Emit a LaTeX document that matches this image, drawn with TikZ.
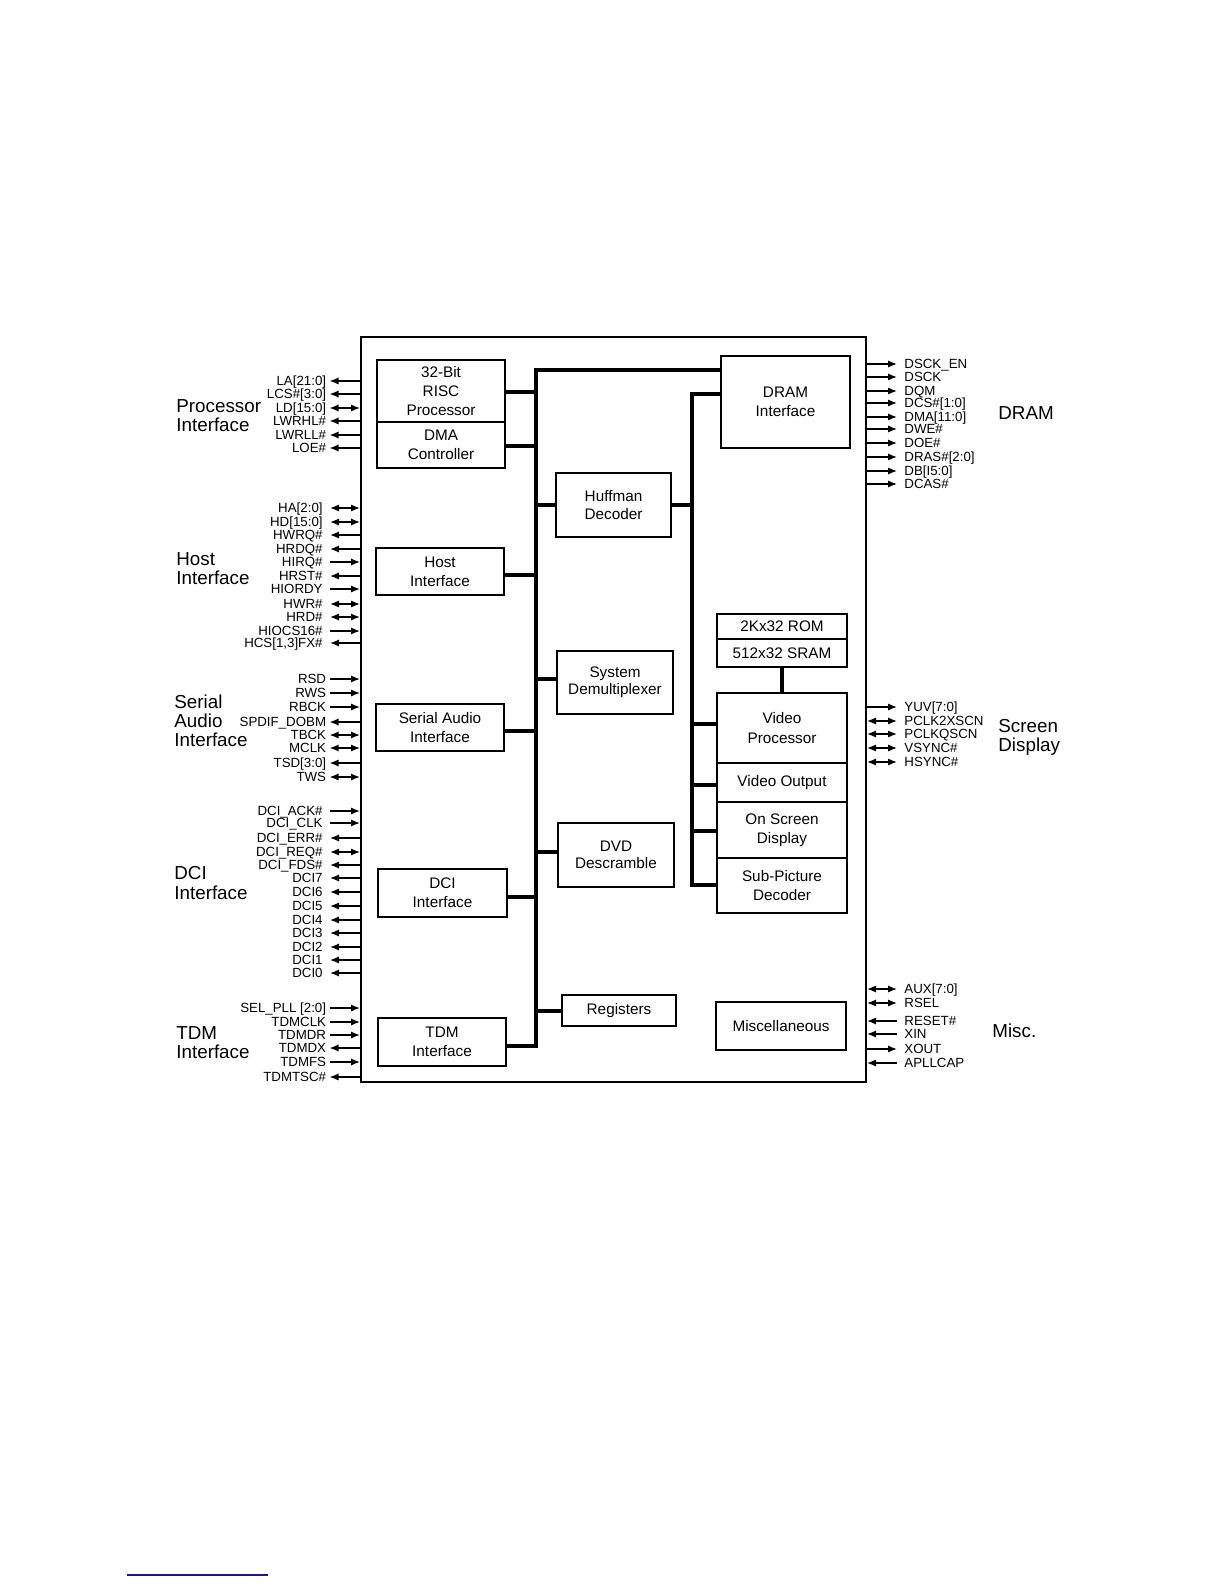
\documentclass[tikz,border=0pt]{standalone}
\usepackage{fontspec}
\setmainfont{Liberation Sans}
\usetikzlibrary{arrows.meta}
\definecolor{fnblue}{RGB}{25,25,140}
\begin{document}
\begin{tikzpicture}[x=0.5pt,y=-0.5pt,
  box/.style={draw, line width=1pt, inner sep=0pt, align=center, font=\fontsize{7.65}{9.6}\selectfont},
  midbox/.style={box, font=\fontsize{7.65}{8.7}\selectfont},
  bus/.style={line width=2pt},
  sig/.style={line width=0.7pt, >={Latex[length=4.5pt,width=3.6pt]}},
  lbl/.style={inner sep=0pt, font=\fontsize{6.65}{8}\selectfont, text height=4.75pt, text depth=0pt},
  ttl/.style={inner sep=0pt, anchor=west, align=left, font=\fontsize{9.4}{9.6}\selectfont}
]
\useasboundingbox (0,0) rectangle (1224,1584);

% main chip outline
\node[draw, line width=1pt, minimum width=252.5pt, minimum height=372.5pt, inner sep=0pt] (main) at (613.5,709.5) {};

% left column blocks
\node[box, minimum width=64pt, minimum height=31pt] (risc) at (441,391) {32-Bit\\RISC\\Processor};
\node[box, minimum width=64pt, minimum height=23pt] (dma) at (441,445) {DMA\\Controller};
\node[box, minimum width=64pt, minimum height=23.5pt] (host) at (440,571.5) {Host\\Interface};
\node[box, minimum width=64pt, minimum height=23.5pt] (serial) at (440,727.5) {Serial Audio\\Interface};
\node[box, minimum width=64.5pt, minimum height=24pt] (dci) at (442.5,893) {DCI\\Interface};
\node[box, minimum width=64pt, minimum height=24pt] (tdm) at (442,1042) {TDM\\Interface};

% middle column blocks
\node[midbox, minimum width=57.5pt, minimum height=32pt] (huff) at (613.5,505) {Huffman\\Decoder};
\node[midbox, minimum width=58pt, minimum height=31.5pt] (demux) at (615,682.5) {System\\Demultiplexer};
\node[midbox, minimum width=58pt, minimum height=32pt] (dvd) at (616,855) {DVD\\Descramble};
\node[midbox, minimum width=57pt, minimum height=15.5pt] (reg) at (619,1010.5) {Registers};

% right column blocks
\node[box, minimum width=64.5pt, minimum height=46pt] (dram) at (785.5,402) {DRAM\\Interface};
\node[box, minimum width=65pt, minimum height=12.5pt] (rom) at (782,626.5) {2Kx32 ROM};
\node[box, minimum width=65pt, minimum height=14pt] (sram) at (782,653) {512x32 SRAM};
\node[box, minimum width=65pt, minimum height=35pt] (vp) at (782,728) {Video\\Processor};
\node[box, minimum width=65pt, minimum height=19.5pt] (vo) at (782,782.5) {Video Output};
\node[box, minimum width=65pt, minimum height=28pt] (osd) at (782,830) {On Screen\\Display};
\node[box, minimum width=65pt, minimum height=27.5pt] (spd) at (782,885.5) {Sub-Picture\\Decoder};
\node[box, minimum width=65pt, minimum height=24pt] (misc) at (781,1026) {Miscellaneous};

% left bus
\coordinate (bt) at (536,370);
\coordinate (bb) at (536,1046);
\draw[bus] (dram.west |- bt) -- (bt) -- (bb) -- (tdm.east |- bb);
\draw[bus] (risc.east |- 0,392) -- (bt |- 0,392);
\draw[bus] (dma.east |- 0,446) -- (bt |- 0,446);
\draw[bus] (huff.west |- 0,505) -- (bt |- 0,505);
\draw[bus] (host.east |- 0,575) -- (bt |- 0,575);
\draw[bus] (demux.west |- 0,679) -- (bt |- 0,679);
\draw[bus] (serial.east |- 0,731) -- (bt |- 0,731);
\draw[bus] (dvd.west |- 0,852) -- (bt |- 0,852);
\draw[bus] (dci.east |- 0,897) -- (bt |- 0,897);
\draw[bus] (reg.west |- 0,1011) -- (bt |- 0,1011);

% right bus
\coordinate (rt) at (692,394);
\coordinate (rb) at (692,885);
\draw[bus] (dram.west |- rt) -- (rt) -- (rb) -- (spd.west |- rb);
\draw[bus] (huff.east |- 0,505) -- (rt |- 0,505);
\draw[bus] (vp.west |- 0,724) -- (rt |- 0,724);
\draw[bus] (vo.west |- 0,785) -- (rt |- 0,785);
\draw[bus] (osd.west |- 0,831) -- (rt |- 0,831);
\draw[bus] (sram.south) -- (vp.north);

% left signals
\foreach \yy/\tt/\dd in {381/{LA[21:0]}/<-, 394/{LCS\#[3:0]}/<-, 408/{LD[15:0]}/<->,
  421/{LWRHL\#}/<-, 435/{LWRLL\#}/<-, 448/{LOE\#}/<-,
  679/{RSD}/->, 693/{RWS}/->, 707/{RBCK}/->, 722/{SPDIF\_DOBM}/<-, 735/{TBCK}/<->,
  748/{MCLK}/<->, 763/{TSD[3:0]}/<-, 777/{TWS}/<->,
  1008/{SEL\_PLL [2:0]}/->, 1022/{TDMCLK}/->, 1035/{TDMDR}/->, 1048/{TDMDX}/<-,
  1062/{TDMFS}/->, 1077/{TDMTSC\#}/<-}
{
  \node[lbl, anchor=east] (pl\yy) at (326.5,\yy) {\tt};
  \draw[sig,\dd] (pl\yy.east -| 329.5,0) -- (main.west |- pl\yy.east);
}
\foreach \yy/\tt/\dd in {508/{HA[2:0]}/<->, 522/{HD[15:0]}/<->, 535/{HWRQ\#}/<-,
  549/{HRDQ\#}/<-, 562/{HIRQ\#}/->, 576/{HRST\#}/<-, 589/{HIORDY}/->, 604/{HWR\#}/<->,
  617/{HRD\#}/<->, 631/{HIOCS16\#}/->, 643/{HCS[1,3]FX\#}/<-,
  811/{DCI\_ACK\#}/->, 823/{DCI\_CLK}/->, 838/{DCI\_ERR\#}/<-, 852/{DCI\_REQ\#}/<->,
  865/{DCI\_FDS\#}/<-, 878/{DCI7}/<-, 892/{DCI6}/<-, 906/{DCI5}/<-, 920/{DCI4}/<-,
  933/{DCI3}/<-, 947/{DCI2}/<-, 960/{DCI1}/<-, 973/{DCI0}/<-}
{
  \node[lbl, anchor=east] (pl\yy) at (323,\yy) {\tt};
  \draw[sig,\dd] (pl\yy.east -| 330,0) -- (main.west |- pl\yy.east);
}

% right signals
\foreach \yy/\tt/\dd in {364/{DSCK\_EN}/->, 377/{DSCK}/->, 391/{DQM}/->, 403/{DCS\#[1:0]}/->,
  417/{DMA[11:0]}/->, 429/{DWE\#}/->, 443/{DOE\#}/->, 457/{DRAS\#[2:0]}/->,
  471/{DB[I5:0]}/->, 484/{DCAS\#}/->,
  707/{YUV[7:0]}/->, 721/{PCLK2XSCN}/<->, 734/{PCLKQSCN}/<->, 748/{VSYNC\#}/<->,
  762/{HSYNC\#}/<->,
  989/{AUX[7:0]}/<->, 1003/{RSEL}/<->, 1021/{RESET\#}/<-, 1034/{XIN}/<-,
  1049/{XOUT}/->, 1063/{APLLCAP}/<-}
{
  \node[lbl, anchor=west] (pr\yy) at (904,\yy) {\tt};
  \draw[sig,\dd] (main.east |- pr\yy.west) -- ([xshift=-3.5pt]pr\yy.west);
}

% group titles
\node[ttl] (tproc) at (176,415.5) {Processor\\Interface};
\node[ttl] (thost) at (176,568.5) {Host\\Interface};
\node[ttl] (tser) at (174,721) {Serial\\Audio\\Interface};
\node[ttl] (tdci) at (174,883) {DCI\\Interface};
\node[ttl] (ttdm) at (176,1042.5) {TDM\\Interface};
\node[ttl] (tdram) at (998,413) {DRAM};
\node[ttl] (tscr) at (998,737) {Screen\\Display};
\node[ttl] (tmisc) at (992,1031) {Misc.};

% footnote rule
\draw[fnblue, line width=1pt] (127,1575) -- (268,1575);
\end{tikzpicture}
\end{document}
